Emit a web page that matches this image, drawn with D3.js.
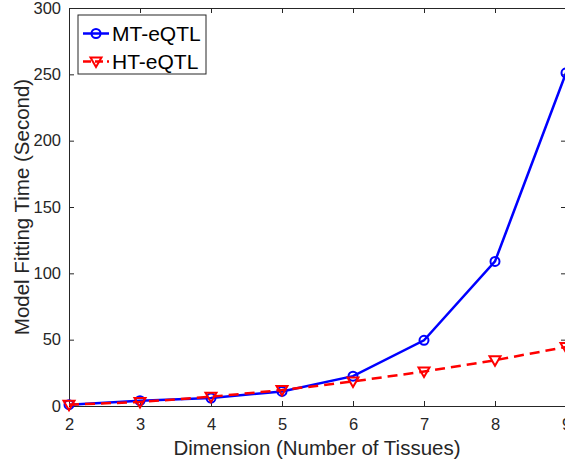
<!DOCTYPE html>
<html>
<head>
<meta charset="utf-8">
<script src="https://cdn.jsdelivr.net/npm/d3@7"></script>
<style>
  body { margin: 0; background: #fff; }
  svg { display: block; font-family: "Liberation Sans", Arial, sans-serif; }
</style>
</head>
<body>
<svg id="chart" width="565" height="466"></svg>
<script>
// data
var dims = [2, 3, 4, 5, 6, 7, 8, 9];
var mtValues = [1, 4, 6, 11, 22.5, 49.5, 109, 251];
var htValues = [1, 3, 7, 12, 18.5, 26, 34.5, 44.5];
var xTicks = [2, 3, 4, 5, 6, 7, 8, 9];
var yTicks = [0, 50, 100, 150, 200, 250, 300];
var seriesNames = ["MT-eQTL", "HT-eQTL"];

var axisColor = "#262626";
var margin = {left: 69, top: 8, right: 566, bottom: 406};

var svg = d3.select("#chart");

var x = d3.scaleLinear().domain([2, 9]).range([margin.left, margin.right]);
var y = d3.scaleLinear().domain([0, 300]).range([margin.bottom, margin.top]);

// axes, ticks inward like matlab
function styleAxis(g) {
  g.selectAll("path").attr("stroke", axisColor).attr("stroke-width", 1);
  g.selectAll("line").attr("stroke", axisColor).attr("stroke-width", 1);
  g.selectAll("text").attr("fill", axisColor).attr("font-size", 16.5);
}

svg.append("g")
  .attr("transform", "translate(0," + margin.bottom + ")")
  .call(d3.axisBottom(x).tickValues(xTicks).tickFormat(d3.format("d")).tickSizeInner(-5).tickSizeOuter(0).tickPadding(12))
  .call(styleAxis);

svg.append("g")
  .attr("transform", "translate(0," + margin.top + ")")
  .call(d3.axisTop(x).tickValues(xTicks).tickSizeInner(-5).tickSizeOuter(0).tickFormat(""))
  .call(styleAxis);

svg.append("g")
  .attr("transform", "translate(" + margin.left + ",0)")
  .call(d3.axisLeft(y).tickValues(yTicks).tickFormat(d3.format("d")).tickSizeInner(-5).tickSizeOuter(0).tickPadding(8))
  .call(styleAxis);

svg.append("g")
  .attr("transform", "translate(" + margin.right + ",0)")
  .call(d3.axisRight(y).tickValues(yTicks).tickSizeInner(-5).tickSizeOuter(0).tickFormat(""))
  .call(styleAxis);

// axis labels
svg.append("text")
  .attr("x", 317).attr("y", 455)
  .attr("text-anchor", "middle")
  .attr("font-size", 20.5)
  .attr("fill", axisColor)
  .text("Dimension (Number of Tissues)");

svg.append("text")
  .attr("transform", "translate(29," + 207 + ") rotate(-90)")
  .attr("text-anchor", "middle")
  .attr("font-size", 20.5)
  .attr("fill", axisColor)
  .text("Model Fitting Time (Second)");

// lines
var line = d3.line().x(function(d) { return x(d[0]); }).y(function(d) { return y(d[1]); });
var mtData = dims.map(function(d, i) { return [d, mtValues[i]]; });
var htData = dims.map(function(d, i) { return [d, htValues[i]]; });

var plot = svg.append("g");

plot.append("path")
  .datum(mtData)
  .attr("d", line)
  .attr("fill", "none")
  .attr("stroke", "#0000ff")
  .attr("stroke-width", 2.5);

plot.selectAll(".mt")
  .data(mtData)
  .enter().append("circle")
  .attr("cx", function(d) { return x(d[0]); })
  .attr("cy", function(d) { return y(d[1]); })
  .attr("r", 4.5)
  .attr("fill", "none")
  .attr("stroke", "#0000ff")
  .attr("stroke-width", 2);

plot.append("path")
  .datum(htData)
  .attr("d", line)
  .attr("fill", "none")
  .attr("stroke", "#ff0000")
  .attr("stroke-width", 2.5)
  .attr("stroke-dasharray", "10,6");

var tri = "M-5.5,-4L5.5,-4L0,5.5Z";
plot.selectAll(".ht")
  .data(htData)
  .enter().append("path")
  .attr("d", tri)
  .attr("transform", function(d) { return "translate(" + x(d[0]) + "," + y(d[1]) + ")"; })
  .attr("fill", "none")
  .attr("stroke", "#ff0000")
  .attr("stroke-width", 2);

// legend
var legend = svg.append("g");
legend.append("rect")
  .attr("x", 78).attr("y", 15).attr("width", 128).attr("height", 59)
  .attr("fill", "#fff")
  .attr("stroke", axisColor)
  .attr("stroke-width", 1);

var rowY = [33.5, 61.5];
var colors = ["#0000ff", "#ff0000"];
seriesNames.forEach(function(name, i) {
  var g = legend.append("g").attr("transform", "translate(0," + rowY[i] + ")");
  g.append("line")
    .attr("x1", 83).attr("x2", 109).attr("y1", 0).attr("y2", 0)
    .attr("stroke", colors[i])
    .attr("stroke-width", 2.5)
    .attr("stroke-dasharray", i === 1 ? "8,4" : null);
  if (i === 0) {
    g.append("circle").attr("cx", 96).attr("cy", 0).attr("r", 4.5)
      .attr("fill", "none").attr("stroke", colors[i]).attr("stroke-width", 2);
  } else {
    g.append("path").attr("d", tri).attr("transform", "translate(96,0)")
      .attr("fill", "none").attr("stroke", colors[i]).attr("stroke-width", 2);
  }
  g.append("text")
    .attr("x", 112).attr("y", 7)
    .attr("font-size", 21)
    .attr("fill", "#000")
    .text(name);
});
</script>
</body>
</html>
